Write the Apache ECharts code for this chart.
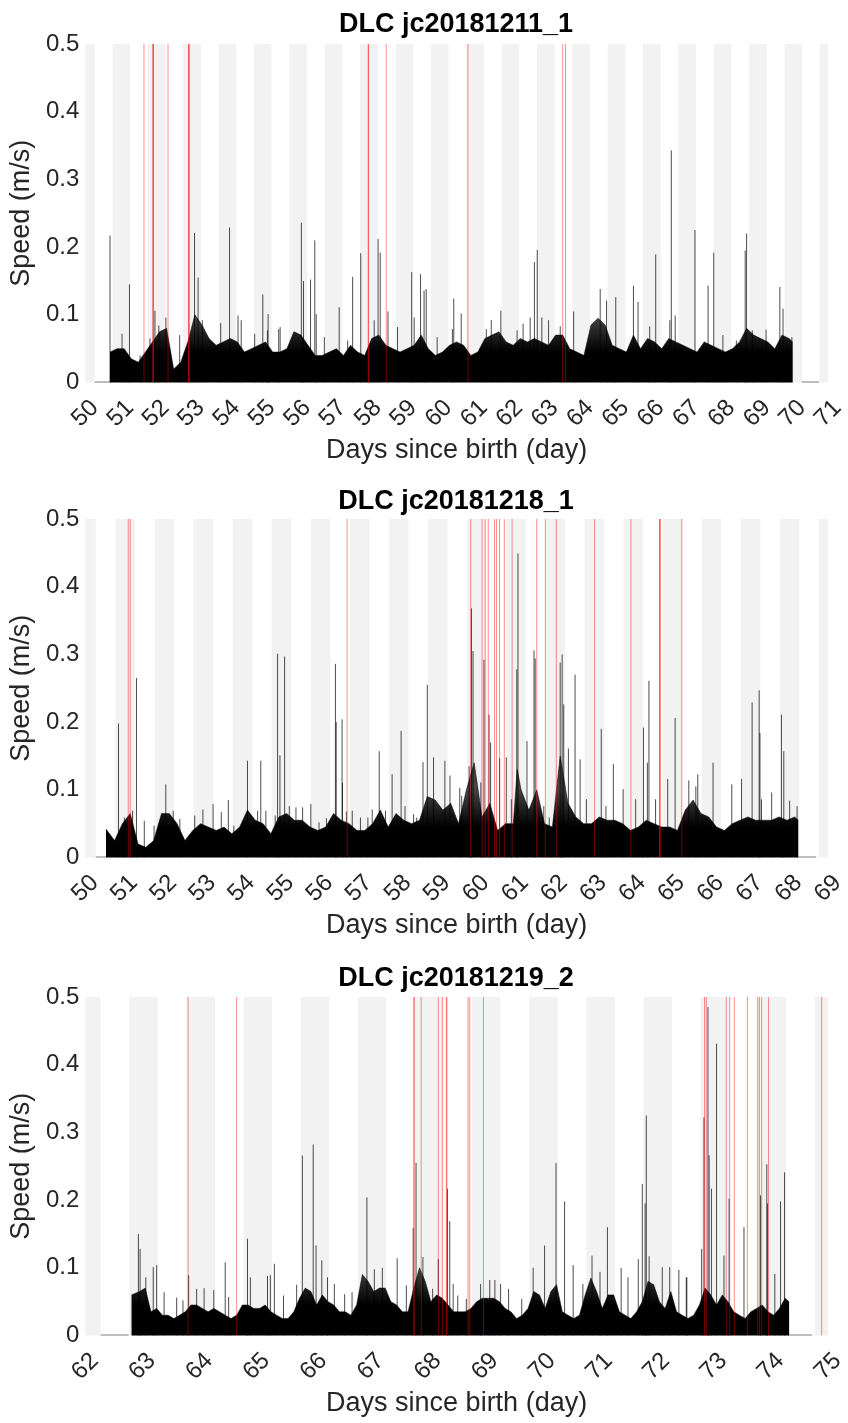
<!DOCTYPE html>
<html>
<head>
<meta charset="utf-8">
<script src="https://cdn.jsdelivr.net/npm/echarts@6/dist/echarts.min.js"></script>
<style>
  html, body { margin: 0; padding: 0; background: #fff; }
  #main { width: 848px; height: 1423px; }
</style>
</head>
<body>
<div id="main"></div>
<script>
// panel titles and x ranges
const titles = ['DLC jc20181211_1', 'DLC jc20181218_1', 'DLC jc20181219_2'];
const xRanges = [[50, 71], [50, 69], [62, 75]];

// lights off / on (fraction of day) for the grey night bands
const nightStart = 0.77;
const nightEnd = 1.27;

// flat zero trace where the recording has no data
const p1Gaps = [[50.27, 50.70], [70.26, 70.75]];
const p2Gaps = [[50.27, 50.53], [68.24, 68.70]];
const p3Gaps = [[62.27, 62.76], [74.32, 74.72]];

// speed level of the dense trace [day, m/s]
const p1Level = [
  [50.7,0.045],[50.9,0.05],[51.1,0.05],[51.3,0.035],[51.5,0.03],[51.7,0.045],[51.9,0.06],[52.1,0.075],
  [52.3,0.08],[52.5,0.02],[52.7,0.03],[52.9,0.06],[53.1,0.10],[53.3,0.085],[53.5,0.065],[53.7,0.055],
  [53.9,0.06],[54.1,0.065],[54.3,0.06],[54.5,0.045],[54.7,0.05],[54.9,0.055],[55.1,0.06],[55.3,0.045],
  [55.5,0.045],[55.7,0.05],[55.9,0.075],[56.1,0.07],[56.3,0.055],[56.5,0.04],[56.7,0.04],[56.9,0.045],
  [57.1,0.05],[57.3,0.04],[57.5,0.055],[57.7,0.045],[57.9,0.04],[58.1,0.065],[58.3,0.07],[58.5,0.055],
  [58.7,0.05],[58.9,0.045],[59.1,0.05],[59.3,0.055],[59.5,0.07],[59.7,0.05],[59.9,0.04],[60.1,0.045],
  [60.3,0.055],[60.5,0.06],[60.7,0.055],[60.9,0.04],[61.1,0.045],[61.3,0.065],[61.5,0.07],[61.7,0.075],
  [61.9,0.06],[62.1,0.055],[62.3,0.065],[62.5,0.06],[62.7,0.065],[62.9,0.06],[63.1,0.055],[63.3,0.07],
  [63.5,0.07],[63.7,0.05],[63.9,0.045],[64.1,0.04],[64.3,0.085],[64.5,0.095],[64.7,0.085],[64.9,0.055],
  [65.1,0.05],[65.3,0.045],[65.5,0.07],[65.7,0.05],[65.9,0.065],[66.1,0.06],[66.3,0.05],[66.5,0.065],
  [66.7,0.06],[66.9,0.055],[67.1,0.05],[67.3,0.045],[67.5,0.06],[67.7,0.055],[67.9,0.05],[68.1,0.045],
  [68.3,0.05],[68.5,0.06],[68.7,0.08],[68.9,0.07],[69.1,0.065],[69.3,0.06],[69.5,0.05],[69.7,0.07],
  [69.9,0.065],[70.0,0.06]
];
const p2Level = [
  [50.53,0.042],[50.75,0.025],[50.95,0.05],[51.15,0.065],[51.35,0.02],[51.55,0.015],[51.75,0.025],[51.95,0.065],
  [52.15,0.065],[52.35,0.05],[52.55,0.025],[52.75,0.04],[52.95,0.05],[53.15,0.045],[53.35,0.04],[53.55,0.045],
  [53.75,0.035],[53.95,0.045],[54.15,0.07],[54.35,0.055],[54.55,0.05],[54.75,0.035],[54.95,0.06],[55.15,0.065],
  [55.35,0.055],[55.55,0.055],[55.75,0.045],[55.95,0.04],[56.15,0.045],[56.35,0.065],[56.55,0.055],[56.75,0.05],
  [56.95,0.04],[57.15,0.04],[57.35,0.05],[57.55,0.07],[57.75,0.045],[57.95,0.065],[58.15,0.055],[58.35,0.05],
  [58.55,0.055],[58.75,0.09],[58.95,0.085],[59.15,0.07],[59.35,0.08],[59.55,0.05],[59.75,0.1],[59.95,0.14],
  [60.15,0.06],[60.35,0.08],[60.55,0.04],[60.75,0.05],[60.95,0.05],[61.05,0.13],[61.15,0.1],[61.35,0.07],
  [61.55,0.1],[61.75,0.05],[61.95,0.045],[62.15,0.15],[62.35,0.08],[62.55,0.06],[62.75,0.05],[62.95,0.05],
  [63.15,0.06],[63.35,0.055],[63.55,0.055],[63.75,0.05],[63.95,0.04],[64.15,0.045],[64.35,0.055],[64.55,0.05],
  [64.75,0.045],[64.95,0.045],[65.15,0.04],[65.35,0.07],[65.55,0.085],[65.75,0.065],[65.95,0.06],[66.15,0.045],
  [66.35,0.04],[66.55,0.05],[66.75,0.055],[66.95,0.06],[67.15,0.055],[67.35,0.055],[67.55,0.055],[67.75,0.06],
  [67.95,0.055],[68.15,0.06],[68.24,0.055]
];
const p3Level = [
  [62.81,0.06],[62.95,0.065],[63.05,0.07],[63.15,0.035],[63.25,0.04],[63.35,0.03],[63.45,0.03],[63.55,0.025],
  [63.65,0.03],[63.75,0.035],[63.85,0.045],[63.95,0.045],[64.05,0.04],[64.15,0.035],[64.25,0.04],[64.35,0.035],
  [64.45,0.03],[64.55,0.025],[64.65,0.03],[64.75,0.045],[64.85,0.045],[64.95,0.04],[65.05,0.04],[65.15,0.045],
  [65.25,0.035],[65.35,0.03],[65.45,0.025],[65.55,0.025],[65.65,0.035],[65.75,0.055],[65.85,0.07],[65.95,0.065],
  [66.05,0.045],[66.15,0.06],[66.25,0.05],[66.35,0.045],[66.45,0.035],[66.55,0.035],[66.65,0.03],[66.75,0.045],
  [66.85,0.09],[66.95,0.08],[67.05,0.065],[67.15,0.07],[67.25,0.07],[67.35,0.05],[67.45,0.045],[67.55,0.035],
  [67.65,0.035],[67.75,0.07],[67.85,0.1],[67.95,0.08],[68.05,0.05],[68.15,0.06],[68.25,0.055],[68.35,0.045],
  [68.45,0.035],[68.55,0.035],[68.65,0.035],[68.75,0.04],[68.85,0.05],[68.95,0.055],[69.05,0.055],[69.15,0.055],
  [69.25,0.05],[69.35,0.04],[69.45,0.035],[69.55,0.025],[69.65,0.03],[69.75,0.04],[69.85,0.065],[69.95,0.06],
  [70.05,0.04],[70.15,0.065],[70.25,0.075],[70.35,0.035],[70.45,0.03],[70.55,0.025],[70.65,0.03],[70.75,0.06],
  [70.85,0.085],[70.95,0.065],[71.05,0.04],[71.15,0.06],[71.25,0.06],[71.35,0.035],[71.45,0.03],[71.55,0.025],
  [71.65,0.035],[71.75,0.05],[71.85,0.08],[71.95,0.075],[72.05,0.05],[72.15,0.04],[72.25,0.065],[72.35,0.035],
  [72.45,0.03],[72.55,0.025],[72.65,0.03],[72.75,0.045],[72.85,0.07],[72.95,0.06],[73.05,0.045],[73.15,0.06],
  [73.25,0.05],[73.35,0.035],[73.45,0.03],[73.55,0.025],[73.65,0.035],[73.75,0.04],[73.85,0.045],[73.95,0.035],
  [74.05,0.03],[74.15,0.04],[74.25,0.055],[74.32,0.05]
];

// single fast samples standing above the dense trace [day, m/s]
const p1Spikes = [
  [50.70,0.217],[51.04,0.072],[51.25,0.145],[51.55,0.04],[51.83,0.065],[51.97,0.106],[52.08,0.084],[52.28,0.096],
  [52.67,0.07],[53.09,0.221],[53.19,0.155],[53.31,0.092],[53.83,0.088],[54.08,0.229],[54.32,0.099],[54.41,0.092],
  [54.79,0.072],[55.02,0.13],[55.15,0.077],[55.17,0.101],[55.47,0.079],[55.51,0.082],[56.11,0.236],[56.17,0.15],
  [56.37,0.152],[56.49,0.21],[56.53,0.101],[56.76,0.067],[57.18,0.111],[57.42,0.062],[57.56,0.156],[57.79,0.191],
  [58.17,0.092],[58.28,0.212],[58.34,0.192],[58.56,0.105],[58.83,0.082],[59.23,0.163],[59.30,0.096],[59.48,0.16],
  [59.58,0.136],[59.64,0.138],[59.95,0.067],[60.38,0.079],[60.42,0.124],[60.63,0.102],[61.34,0.079],[61.48,0.092],
  [61.75,0.106],[62.21,0.077],[62.38,0.087],[62.58,0.096],[62.70,0.178],[62.78,0.196],[62.91,0.096],[63.10,0.092],
  [63.43,0.083],[63.81,0.105],[64.56,0.138],[64.74,0.121],[65.00,0.126],[65.50,0.143],[65.63,0.119],[65.96,0.083],
  [66.13,0.189],[66.53,0.092],[66.57,0.343],[66.68,0.099],[67.24,0.225],[67.61,0.143],[67.77,0.192],[68.03,0.07],
  [68.41,0.062],[68.66,0.195],[68.70,0.22],[68.86,0.077],[69.25,0.078],[69.64,0.141],[69.73,0.109],[69.98,0.067]
];
const p2Spikes = [
  [50.85,0.198],[51.00,0.059],[51.21,0.069],[51.31,0.265],[51.51,0.054],[51.76,0.047],[52.06,0.108],[52.25,0.069],
  [52.42,0.057],[52.80,0.062],[53.01,0.071],[53.27,0.079],[53.48,0.067],[53.66,0.085],[53.80,0.047],[54.15,0.143],
  [54.41,0.069],[54.49,0.143],[54.62,0.069],[54.86,0.062],[54.92,0.301],[54.98,0.151],[55.10,0.297],[55.22,0.076],
  [55.39,0.074],[55.56,0.074],[55.77,0.079],[55.98,0.052],[56.17,0.058],[56.40,0.286],[56.42,0.2],[56.57,0.204],
  [56.58,0.11],[56.68,0.068],[56.83,0.069],[57.04,0.059],[57.23,0.059],[57.34,0.071],[57.52,0.157],[57.68,0.069],
  [57.85,0.123],[58.08,0.187],[58.18,0.076],[58.40,0.064],[58.48,0.059],[58.64,0.141],[58.75,0.255],[58.91,0.148],
  [59.20,0.143],[59.33,0.121],[59.58,0.103],[59.63,0.091],[59.82,0.135],[59.88,0.368],[59.92,0.305],[60.12,0.111],
  [60.20,0.292],[60.33,0.211],[60.37,0.17],[60.60,0.147],[60.77,0.148],[60.90,0.086],[61.04,0.278],[61.07,0.449],
  [61.30,0.172],[61.48,0.306],[61.51,0.294],[61.73,0.076],[61.87,0.059],[62.15,0.288],[62.20,0.30],[62.24,0.226],
  [62.36,0.161],[62.53,0.27],[62.66,0.145],[62.82,0.086],[63.20,0.19],[63.32,0.076],[63.51,0.138],[63.76,0.101],
  [64.08,0.086],[64.28,0.192],[64.38,0.14],[64.42,0.261],[64.59,0.086],[64.90,0.116],[65.09,0.206],[65.44,0.114],
  [65.62,0.105],[65.67,0.123],[66.06,0.14],[66.54,0.108],[66.79,0.116],[67.06,0.229],[67.24,0.247],[67.26,0.184],
  [67.30,0.086],[67.56,0.096],[67.81,0.211],[67.87,0.157],[68.02,0.084],[68.21,0.076]
];
const p3Spikes = [
  [62.93,0.15],[62.96,0.128],[63.06,0.086],[63.19,0.101],[63.25,0.104],[63.38,0.064],[63.60,0.056],[63.71,0.052],
  [63.81,0.089],[63.95,0.069],[64.08,0.07],[64.25,0.067],[64.45,0.108],[64.51,0.057],[64.84,0.143],[64.89,0.086],
  [65.19,0.088],[65.24,0.089],[65.31,0.106],[65.47,0.059],[65.70,0.075],[65.80,0.266],[65.99,0.282],[66.04,0.133],
  [66.14,0.111],[66.24,0.086],[66.36,0.076],[66.54,0.061],[66.67,0.064],[66.93,0.204],[67.06,0.098],[67.20,0.1],
  [67.46,0.114],[67.62,0.074],[67.74,0.159],[67.79,0.255],[67.91,0.116],[68.08,0.069],[68.18,0.113],[68.34,0.217],
  [68.38,0.169],[68.44,0.076],[68.52,0.059],[68.67,0.054],[68.92,0.076],[69.08,0.082],[69.17,0.082],[69.27,0.076],
  [69.41,0.069],[69.64,0.054],[69.84,0.1],[70.04,0.133],[70.24,0.255],[70.39,0.198],[70.54,0.104],[70.71,0.076],
  [70.87,0.118],[71.01,0.094],[71.14,0.16],[71.38,0.1],[71.50,0.086],[71.68,0.113],[71.75,0.224],[71.80,0.195],
  [71.82,0.325],[71.87,0.117],[72.10,0.101],[72.23,0.101],[72.39,0.097],[72.52,0.086],[72.53,0.086],[72.79,0.128],
  [72.83,0.322],[72.90,0.485],[72.92,0.266],[72.96,0.217],[73.05,0.431],[73.18,0.118],[73.27,0.202],[73.53,0.16],
  [73.82,0.207],[73.93,0.253],[73.94,0.195],[74.07,0.091],[74.17,0.198],[74.24,0.241],[74.31,0.037]
];

// marked events (red lines), days
const p1Events = [51.66, 51.91, 51.92, 51.93, 52.34, 52.92, 52.93, 52.94, 58.00, 58.01, 58.51, 60.82, 63.50, 63.58];
const p2Events = [51.10, 51.15, 56.70, 59.86, 60.15, 60.23, 60.31, 60.47, 60.52, 60.60, 60.72, 60.92,
  61.55, 61.77, 62.05, 63.03, 63.96, 64.69, 64.70, 64.71, 65.26];
const p3Events = [63.80, 64.65, 67.75, 67.76, 67.88, 68.18, 68.25, 68.32, 68.33, 68.70, 68.73, 68.97,
  72.84, 72.87, 73.22, 73.28, 73.36, 73.59, 73.77, 73.80, 73.84, 73.96, 74.89];

const levels = [p1Level, p2Level, p3Level];
const spikes = [p1Spikes, p2Spikes, p3Spikes];
const events = [p1Events, p2Events, p3Events];
const gaps = [p1Gaps, p2Gaps, p3Gaps];

const font = 'Liberation Sans, Arial, Helvetica, sans-serif';
const textColor = '#262626';
const gridTops = [44, 519, 997];
const gridHeight = 338.5;
const titleTops = [11, 488, 965];

let nightBands = (range) => {
  let out = [];
  for (let d = range[0] - 1; d <= range[1]; d++) {
    let s = Math.max(d + nightStart, range[0]);
    let e = Math.min(d + nightEnd, range[1]);
    if (e > s) out.push([s, e]);
  }
  return out;
};

let vline = (color, width, top) => (params, api) => {
  let x = api.value(0);
  let p0 = api.coord([x, 0]);
  let p1 = api.coord([x, top === undefined ? api.value(1) : top]);
  return {
    type: 'line',
    shape: { x1: p0[0], y1: p0[1], x2: p1[0], y2: p1[1] },
    style: { stroke: color, lineWidth: width }
  };
};

// fill of the dense trace: solid near zero, a little softer at the top
let traceFill = (i) => {
  let bottom = gridTops[i] + gridHeight;
  return {
    type: 'linear', x: 0, y: bottom, x2: 0, y2: bottom - gridHeight * 0.2, global: true,
    colorStops: [
      { offset: 0, color: 'rgba(0,0,0,1)' },
      { offset: 0.45, color: 'rgba(0,0,0,1)' },
      { offset: 0.7, color: 'rgba(0,0,0,0.88)' },
      { offset: 1, color: 'rgba(0,0,0,0.72)' }
    ]
  };
};

let grid = [], xAxis = [], yAxis = [], title = [], series = [];

titles.forEach((name, i) => {
  grid.push({ left: 83, right: 19, top: gridTops[i], height: gridHeight });
  title.push({
    text: name, left: 456, top: titleTops[i], textAlign: 'center', padding: 0,
    textStyle: { fontFamily: font, fontSize: 27, fontWeight: 'bold', color: '#000' }
  });
  xAxis.push({
    gridIndex: i, type: 'value', min: xRanges[i][0], max: xRanges[i][1], interval: 1,
    axisLine: { show: false }, axisTick: { show: false }, splitLine: { show: false },
    axisLabel: { rotate: 45, margin: 31, align: 'center', verticalAlign: 'middle',
      fontFamily: font, fontSize: 24, color: textColor },
    name: 'Days since birth (day)', nameLocation: 'middle', nameGap: 55,
    nameTextStyle: { fontFamily: font, fontSize: 27, color: textColor }
  });
  yAxis.push({
    gridIndex: i, type: 'value', min: 0, max: 0.5, interval: 0.1,
    axisLine: { show: false }, axisTick: { show: false }, splitLine: { show: false },
    axisLabel: { margin: 6, fontFamily: font, fontSize: 24, color: textColor,
      formatter: (v) => v === 0 ? '0' : v.toFixed(1) },
    name: 'Speed (m/s)', nameLocation: 'middle', nameGap: 41,
    nameTextStyle: { fontFamily: font, fontSize: 27, color: textColor }
  });

  // grey night bands
  series.push({
    type: 'custom', xAxisIndex: i, yAxisIndex: i, z: 1, silent: true,
    data: nightBands(xRanges[i]),
    renderItem: (params, api) => {
      let a = api.coord([api.value(0), 0.5]);
      let b = api.coord([api.value(1), 0]);
      return { type: 'rect', shape: { x: a[0], y: a[1], width: b[0] - a[0], height: b[1] - a[1] },
        style: { fill: '#f2f2f2' } };
    }
  });
  // flat trace where nothing recorded
  series.push({
    type: 'custom', xAxisIndex: i, yAxisIndex: i, z: 2, silent: true,
    data: gaps[i],
    renderItem: (params, api) => {
      let a = api.coord([api.value(0), 0]);
      let b = api.coord([api.value(1), 0]);
      return { type: 'line', shape: { x1: a[0], y1: a[1] - 0.5, x2: b[0], y2: b[1] - 0.5 },
        style: { stroke: '#a8a8a8', lineWidth: 1.5 } };
    }
  });
  // dense speed trace
  series.push({
    type: 'line', xAxisIndex: i, yAxisIndex: i, z: 3, silent: true,
    data: levels[i], showSymbol: false, animation: false,
    lineStyle: { color: 'rgba(0,0,0,0.5)', width: 1 },
    areaStyle: { color: traceFill(i), opacity: 1 }
  });
  // isolated fast samples
  series.push({
    type: 'custom', xAxisIndex: i, yAxisIndex: i, z: 4, silent: true,
    data: spikes[i], renderItem: vline('rgba(0,0,0,0.7)', 1)
  });
  // events
  series.push({
    type: 'custom', xAxisIndex: i, yAxisIndex: i, z: 5, silent: true,
    data: events[i].map((d) => [d]), renderItem: vline('rgba(255,0,0,0.45)', 1, 0.5)
  });
});

let chart = echarts.init(document.getElementById('main'));
chart.setOption({ animation: false, title: title, grid: grid, xAxis: xAxis, yAxis: yAxis, series: series });
</script>
</body>
</html>
